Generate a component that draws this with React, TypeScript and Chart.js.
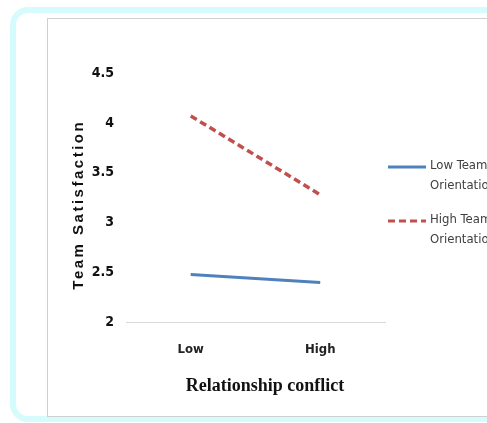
import React, { useEffect, useRef } from "react";
import { Chart, registerables } from "chart.js";

Chart.register(...registerables);

const categories = ["Low", "High"];
const lowTeamOrientation = [2.48, 2.4];
const highTeamOrientation = [4.07, 3.28];
const seriesNames = [["Low Team", "Orientation"], ["High Team", "Orientation"]];
const yTicks = [2, 2.5, 3, 3.5, 4, 4.5];
const xTitle = "Relationship conflict";
const yTitle = "Team Satisfaction";

const BLUE = "#4F81BD";
const RED = "#C0504D";

const extras = {
  id: "extras",
  afterDraw(chart: any) {
    const { ctx } = chart;
    ctx.save();
    // x title
    ctx.fillStyle = "#111";
    ctx.font = "bold 18px 'Liberation Serif', serif";
    ctx.textAlign = "center";
    ctx.textBaseline = "middle";
    ctx.fillText(xTitle, 265, 386);
    // y title
    ctx.save();
    ctx.translate(79, 206);
    ctx.rotate(-Math.PI / 2);
    (ctx as any).letterSpacing = "2.5px";
    ctx.font = "bold 15px 'Liberation Sans', Arial, sans-serif";
    ctx.fillText(yTitle, 1.25, 0);
    ctx.restore();
    // legend
    const items = [
      { color: BLUE, dash: [] as number[], y: 167, lines: seriesNames[0] },
      { color: RED, dash: [7, 4], y: 221, lines: seriesNames[1] },
    ];
    items.forEach((it) => {
      ctx.save();
      ctx.strokeStyle = it.color;
      ctx.lineWidth = 3;
      ctx.setLineDash(it.dash);
      ctx.beginPath();
      ctx.moveTo(388, it.y);
      ctx.lineTo(426, it.y);
      ctx.stroke();
      ctx.restore();
      ctx.fillStyle = "#404040";
      ctx.font = "13px 'Liberation Sans Narrow', 'DejaVu Sans Condensed', sans-serif";
      ctx.textAlign = "left";
      ctx.textBaseline = "middle";
      ctx.fillText(it.lines[0], 430, it.y - 1);
      ctx.fillText(it.lines[1], 430, it.y + 19);
    });
    ctx.restore();
  },
};

export default function App() {
  const ref = useRef<HTMLCanvasElement | null>(null);
  useEffect(() => {
    if (!ref.current) return;
    const chart = new Chart(ref.current, {
      type: "line",
      data: {
        labels: categories,
        datasets: [
          {
            label: "Low Team Orientation",
            data: lowTeamOrientation,
            borderColor: BLUE,
            backgroundColor: BLUE,
            borderWidth: 3,
            pointRadius: 0,
            tension: 0,
          },
          {
            label: "High Team Orientation",
            data: highTeamOrientation,
            borderColor: RED,
            backgroundColor: RED,
            borderWidth: 3.5,
            borderDash: [7, 4],
            pointRadius: 0,
            tension: 0,
          },
        ],
      },
      options: {
        animation: false,
        responsive: false,
        layout: { padding: { left: 86, right: 102, top: 73, bottom: 0 } },
        plugins: { legend: { display: false }, tooltip: { enabled: false } },
        scales: {
          x: {
            offset: true,
            grid: { display: false, drawTicks: false },
            border: { display: true, color: "#d9d9d9", width: 1 },
            ticks: {
              padding: 19,
              color: "#222",
              font: { family: "'Liberation Sans Narrow', 'DejaVu Sans Condensed', sans-serif", size: 13, weight: "bold" },
            },
            afterFit: (s: any) => {
              s.height = 100.5;
            },
          },
          y: {
            min: yTicks[0],
            max: yTicks[yTicks.length - 1],
            afterBuildTicks: (s: any) => {
              s.ticks = yTicks.map((v) => ({ value: v }));
            },
            grid: { display: false, drawTicks: false },
            border: { display: false },
            ticks: {
              padding: 12,
              color: "#111",
              font: { family: "'Liberation Sans Narrow', 'DejaVu Sans Condensed', sans-serif", size: 14, weight: "bold" },
              callback: (v: any) => String(v),
            },
            afterFit: (s: any) => {
              s.width = 40;
            },
          },
        },
      },
      plugins: [extras],
    });
    return () => chart.destroy();
  }, []);

  return (
    <div style={{ position: "fixed", left: 0, top: 0, width: 487, height: 423, overflow: "hidden", background: "#fff" }}>
      <div
        style={{
          position: "absolute",
          left: 10,
          top: 7,
          width: 520,
          height: 415,
          border: "6px solid #d6fbfd",
          borderRadius: 18,
          boxSizing: "border-box",
        }}
      />
      <div
        style={{
          position: "absolute",
          left: 47,
          top: 18,
          width: 480,
          height: 399,
          border: "1px solid #cfcfcf",
          boxSizing: "border-box",
          background: "#fff",
        }}
      />
      <canvas ref={ref} width={487} height={423} style={{ position: "absolute", left: 0, top: 0, width: 487, height: 423 }} />
    </div>
  );
}
